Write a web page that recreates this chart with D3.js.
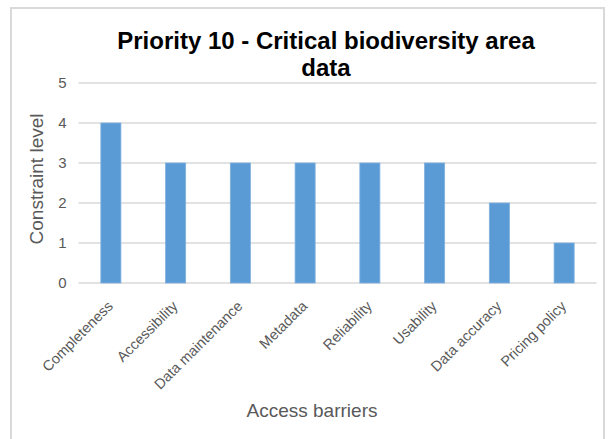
<!DOCTYPE html>
<html>
<head>
<meta charset="utf-8">
<script src="https://cdn.jsdelivr.net/npm/d3@7"></script>
<style>
  html, body { margin: 0; padding: 0; background: #fff; }
  svg { display: block; font-family: "Liberation Sans", Arial, sans-serif; }
</style>
</head>
<body>
<svg id="chart" width="611" height="439"></svg>
<script>
// Access barriers and their constraint levels
const categories = ["Completeness", "Accessibility", "Data maintenance", "Metadata",
                    "Reliability", "Usability", "Data accuracy", "Pricing policy"];
const values = [4, 3, 3, 3, 3, 3, 2, 1];
const yTicks = [0, 1, 2, 3, 4, 5];
const titleLines = ["Priority 10 - Critical biodiversity area", "data"];
const xTitle = "Access barriers";
const yTitle = "Constraint level";

const svg = d3.select("#chart");

// Chart frame
svg.append("rect")
  .attr("x", 11).attr("y", 8)
  .attr("width", 593).attr("height", 440)
  .attr("fill", "none")
  .attr("stroke", "#d9d9d9")
  .attr("stroke-width", 2);

const plot = { left: 78.5, right: 596.5, top: 83, bottom: 283 };

const x = d3.scaleBand()
  .domain(categories)
  .range([plot.left, plot.right])
  .paddingInner(0.69)
  .paddingOuter(0.345);

const y = d3.scaleLinear()
  .domain([0, 5])
  .range([plot.bottom, plot.top]);

// Horizontal gridlines
svg.append("g")
  .selectAll("line")
  .data(yTicks)
  .join("line")
  .attr("x1", plot.left).attr("x2", plot.right)
  .attr("y1", d => y(d)).attr("y2", d => y(d))
  .attr("stroke", "#d9d9d9")
  .attr("stroke-width", 1.3);

// Y axis tick labels
const yAxis = svg.append("g")
  .attr("transform", `translate(${plot.left - 12},0)`)
  .call(d3.axisLeft(y).tickValues(yTicks).tickSize(0).tickPadding(0).tickFormat(d3.format("d")));
yAxis.select(".domain").remove();
yAxis.selectAll("text")
  .attr("fill", "#595959")
  .style("font-size", "15px")
  .style("font-family", "'Liberation Sans', Arial, sans-serif");

// Bars
svg.append("g")
  .selectAll("rect")
  .data(categories)
  .join("rect")
  .attr("x", d => x(d))
  .attr("y", (d, i) => y(values[i]))
  .attr("width", x.bandwidth())
  .attr("height", (d, i) => y(0) - y(values[i]))
  .attr("fill", "#5b9bd5")
  .attr("stroke", "#7fb0de")
  .attr("stroke-width", 0.8);

// X axis category labels, rotated
const xAxis = svg.append("g")
  .attr("transform", `translate(0,${plot.bottom})`)
  .call(d3.axisBottom(x).tickSize(0).tickPadding(0));
xAxis.select(".domain").remove();
xAxis.selectAll("text")
  .attr("fill", "#595959")
  .attr("text-anchor", "end")
  .attr("dy", 0)
  .attr("transform", "translate(3,24) rotate(-45)")
  .style("font-size", "14.5px")
  .style("font-family", "'Liberation Sans', Arial, sans-serif");

// Title
svg.append("g")
  .selectAll("text")
  .data(titleLines)
  .join("text")
  .attr("x", 326)
  .attr("y", (d, i) => 49 + i * 27)
  .attr("text-anchor", "middle")
  .attr("font-size", 24)
  .attr("font-weight", "bold")
  .attr("fill", "#000")
  .text(d => d);

// Axis titles
svg.append("text")
  .attr("x", 312)
  .attr("y", 417)
  .attr("text-anchor", "middle")
  .attr("font-size", 19)
  .attr("fill", "#595959")
  .text(xTitle);

svg.append("text")
  .attr("transform", "translate(43,179) rotate(-90)")
  .attr("text-anchor", "middle")
  .attr("font-size", 19)
  .attr("fill", "#595959")
  .text(yTitle);
</script>
</body>
</html>
